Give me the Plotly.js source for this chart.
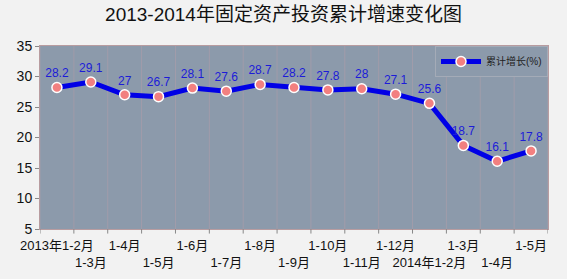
<!DOCTYPE html>
<html><head><meta charset="utf-8">
<script src="https://cdn.plot.ly/plotly-3.0.1.min.js"></script>
<style>body{margin:0;background:#f2f2f2}#c{width:567px;height:279px}</style>
</head><body><div id="c"></div>
<script>
const categories = ["2013年1-2月","1-3月","1-4月","1-5月","1-6月","1-7月","1-8月","1-9月","1-10月","1-11月","1-12月","2014年1-2月","1-3月","1-4月","1-5月"];
const growth = [28.2, 29.1, 27, 26.7, 28.1, 27.6, 28.7, 28.2, 27.8, 28, 27.1, 25.6, 18.7, 16.1, 17.8];
const labelText = ["28.2","29.1","27","26.7","28.1","27.6","28.7","28.2","27.8","28","27.1","25.6","18.7","16.1","17.8"];
const yTicks = [5, 10, 15, 20, 25, 30, 35];

const idx = categories.map((c, i) => i);
const tickText = categories.map((c, i) => i % 2 === 0 ? c : "<br>" + c);
const font = "Liberation Sans, Arial, Noto Sans CJK SC, sans-serif";

Plotly.newPlot("c", [{
  x: idx, y: growth, type: "scatter", mode: "lines+markers+text",
  name: "累计增长(%)",
  text: labelText, textposition: "top center",
  textfont: {family: font, size: 12, color: "#1c1cd8"},
  line: {color: "#0000e6", width: 5},
  marker: {color: "#f28080", size: 10, line: {color: "#ffffff", width: 1.5}}
}], {
  width: 567, height: 279,
  paper_bgcolor: "#f2f2f2", plot_bgcolor: "#8c9aab",
  margin: {l: 40, r: 19, t: 46, b: 50},
  title: {text: "2013-2014年固定资产投资累计增速变化图", x: 0.5, xanchor: "center", y: 0.95, yanchor: "middle",
          font: {family: font, size: 19, color: "#111"}},
  showlegend: true,
  legend: {x: 1, xanchor: "right", y: 1, yanchor: "top", bgcolor: "#8c9aab", bordercolor: "#a4abb7", borderwidth: 1,
           font: {family: font, size: 10, color: "#222"}, itemwidth: 40},
  xaxis: {
    type: "linear", range: [-0.5, 14.5], tickmode: "array", tickangle: 0, ticklabelstandoff: 4,
    tickvals: idx, ticktext: tickText, ticks: "", showgrid: false,
    showline: true, linecolor: "#b89ca0", mirror: true,
    tickfont: {family: font, size: 13, color: "#111"}, zeroline: false
  },
  yaxis: {
    range: [5, 35], tickmode: "array", tickvals: yTicks, ticks: "outside", ticklen: 4, tickcolor: "#888",
    showgrid: false, showline: true, linecolor: "#b89ca0", mirror: true, zeroline: false,
    tickfont: {family: font, size: 14, color: "#111"}
  },
  shapes: idx.concat([15]).map(i => ({
    type: "line", xref: "x", yref: "paper", x0: i - 0.5, x1: i - 0.5, y0: 0, y1: 1,
    line: {color: "rgba(200,160,170,0.35)", width: 1}, layer: "below"
  })).concat(idx.concat([15]).map(i => ({
    type: "line", xref: "x", yref: "paper", x0: i - 0.5, x1: i - 0.5, y0: 0, y1: -0.025,
    line: {color: "#888", width: 1}
  })))
}, {displayModeBar: false});
</script></body></html>
